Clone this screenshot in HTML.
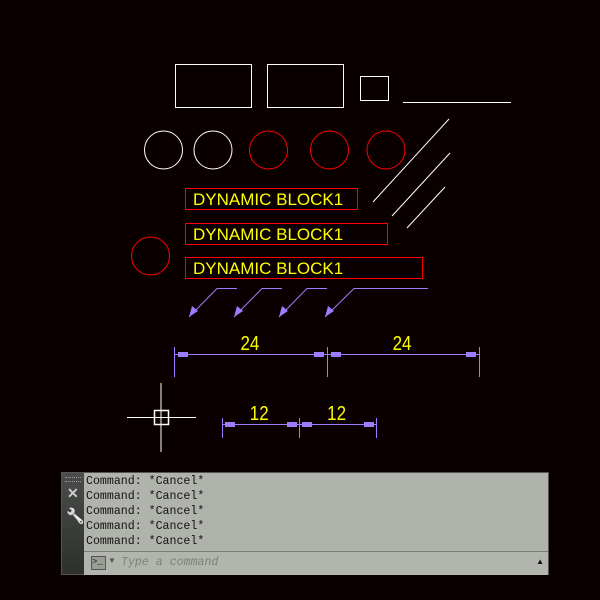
<!DOCTYPE html>
<html><head><style>
body{margin:0;background:#0a0000;width:600px;height:600px;overflow:hidden;position:relative}
svg{position:absolute;left:0;top:0}
.panel{position:absolute;left:61px;top:472px;width:486px;height:101px;background:#b0b3ac;border:1px solid #555}
.strip{position:absolute;left:0;top:0;width:22px;height:101px;background:linear-gradient(#4a4c4a,#2e302e)}
.lines{position:absolute;left:24px;top:1px;font:11.6px/15px "Liberation Mono",monospace;color:#111}
.inp{position:absolute;left:22px;top:78px;width:464px;height:23px;border-top:1px solid #7a7d78;background:#b2b5ae}
.inp span{position:absolute;left:37px;top:4px;font:italic 11.6px "Liberation Mono",monospace;color:#7d807a}
</style></head><body>
<svg width="600" height="470" viewBox="0 0 600 470">
<g fill="none" stroke="#fff" stroke-width="1">
<rect x="175.5" y="64.5" width="76" height="43"/>
<rect x="267.5" y="64.5" width="76" height="43"/>
<rect x="360.5" y="76.5" width="28" height="24"/>
<line x1="403" y1="102.5" x2="511" y2="102.5"/>
<circle cx="163.5" cy="150" r="19"/>
<circle cx="213" cy="150" r="19"/>
<line x1="449" y1="119" x2="373" y2="202"/>
<line x1="450" y1="153" x2="392" y2="216"/>
<line x1="445" y1="187" x2="407" y2="228"/>
<line x1="161" y1="383" x2="161" y2="452"/>
<line x1="127" y1="417.5" x2="196" y2="417.5"/>
<rect x="154.5" y="410.5" width="14" height="14" stroke-width="1.5"/>
</g>
<g fill="none" stroke="#f00">
<circle cx="268.5" cy="150" r="19"/>
<circle cx="329.5" cy="150" r="19"/>
<circle cx="386" cy="150" r="19"/>
<circle cx="150.5" cy="256" r="19"/>
<rect x="185.5" y="188.5" width="172" height="21"/>
<rect x="185.5" y="223.5" width="202" height="21"/>
<rect x="185.5" y="257.5" width="237" height="21"/>
</g>
<g font-family="Liberation Sans,sans-serif" font-size="17" fill="#ff0">
<text x="193" y="205">DYNAMIC BLOCK1</text>
<text x="193" y="240">DYNAMIC BLOCK1</text>
<text x="193" y="274">DYNAMIC BLOCK1</text>
</g>
<g stroke="#9b7dff" fill="none">
<polyline points="237,288.5 217,288.5 189,317"/>
<polyline points="282,288.5 262,288.5 234,317"/>
<polyline points="327,288.5 307,288.5 279,317"/>
<polyline points="428,288.5 354,288.5 325,317"/>
<line x1="174.5" y1="347" x2="174.5" y2="377"/>
<line x1="327.5" y1="347" x2="327.5" y2="377"/>
<line x1="479.5" y1="347" x2="479.5" y2="377"/>
<line x1="174" y1="354.5" x2="479" y2="354.5"/>
<line x1="222.5" y1="418" x2="222.5" y2="438"/>
<line x1="299.5" y1="418" x2="299.5" y2="438"/>
<line x1="376.5" y1="418" x2="376.5" y2="438"/>
<line x1="222" y1="424.5" x2="376" y2="424.5"/>
</g>
<g fill="#9b7dff">
<polygon points="189,317 192,306 198,311"/>
<polygon points="234,317 237,306 243,311"/>
<polygon points="279,317 282,306 288,311"/>
<polygon points="325,317 328,306 334,311"/>
<rect x="178" y="352" width="10" height="5"/><rect x="314" y="352" width="10" height="5"/>
<rect x="331" y="352" width="10" height="5"/><rect x="466" y="352" width="10" height="5"/>
<rect x="225" y="422" width="10" height="5"/><rect x="287" y="422" width="10" height="5"/>
<rect x="302" y="422" width="10" height="5"/><rect x="364" y="422" width="10" height="5"/>
</g>
<g font-family="Liberation Sans,sans-serif" font-size="20" fill="#ff0" text-anchor="middle" transform="scale(0.85,1)">
<text x="294" y="350">24</text>
<text x="473" y="350">24</text>
<text x="305" y="420">12</text>
<text x="396" y="420">12</text>
</g>
</svg>
<div class="panel">
<div class="strip">
<div style="position:absolute;left:3px;top:4px;width:16px;height:3px;border-top:1px dotted #999;border-bottom:1px dotted #999"></div>
<div style="position:absolute;left:5px;top:12px;color:#ccc;font:bold 14px 'Liberation Sans',sans-serif">✕</div>
<div style="position:absolute;left:4px;top:34px;color:#ccc;font:15px 'DejaVu Sans',sans-serif;filter:grayscale(1) brightness(1.3)">🔧</div>
</div>
<div class="lines">Command: *Cancel*<br>Command: *Cancel*<br>Command: *Cancel*<br>Command: *Cancel*<br>Command: *Cancel*</div>
<div class="inp">
<div style="position:absolute;left:7px;top:4px;width:13px;height:12px;border:1px solid #555;background:#9a9d96;font:9px 'Liberation Mono',monospace;color:#222">&gt;_</div>
<div style="position:absolute;left:24px;top:4px;font:8px sans-serif;color:#555">▼</div>
<span>Type a command</span>
<div style="position:absolute;right:4px;top:5px;font:8px sans-serif;color:#111">▲</div>
</div>
</div>
</body></html>
